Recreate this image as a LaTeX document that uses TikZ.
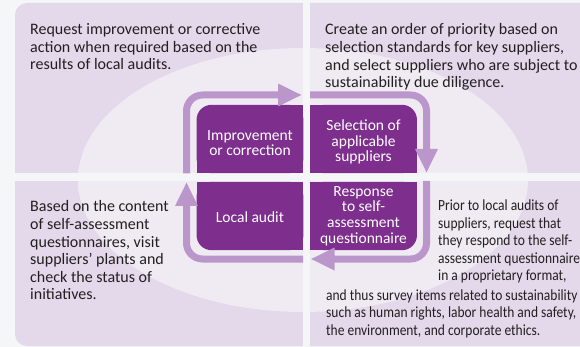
\documentclass[tikz,border=0pt]{standalone}
\usepackage{fontspec}
\setmainfont{Carlito}
\newfontfamily\narrowfont[FakeStretch=0.87]{Carlito}
\usetikzlibrary{arrows.meta, backgrounds}

\definecolor{pagebg}{HTML}{F5F6F7}
\definecolor{panelfill}{HTML}{E4D8EB}
\definecolor{glowfill}{HTML}{F0EAF3}
\definecolor{stagecol}{HTML}{7E2F8E}
\definecolor{loopcol}{HTML}{BA96CA}
\definecolor{ink}{HTML}{231F20}

\pgfdeclareradialshading{glow}{\pgfpoint{0bp}{0bp}}{%
  color(0bp)=(glowfill); color(28bp)=(glowfill);
  color(49bp)=(panelfill!65!glowfill); color(50bp)=(panelfill)}

\tikzset{
  stage/.style={
    inner sep=0pt, minimum width=106.5pt, minimum height=68pt
  },
  stagetext/.style={
    text=white, align=center, inner sep=0pt,
    font=\fontsize{15.5}{15.7}\selectfont
  },
  note/.style={
    text=ink, align=left, inner sep=0pt, anchor=north west,
    font=\fontsize{16}{17.6}\selectfont
  },
  narrownote/.style={
    note, font=\narrowfont\fontsize{15.5}{17.5}\selectfont
  },
  cyclearrow/.style={
    draw=loopcol, line width=7pt, rounded corners=16pt,
    -{Triangle[length=24pt, width=21pt]}
  }
}
% fill a stage box, only one corner rounded
\def\stagefill#1#2#3#4#5{%
  \fill[stagecol, rounded corners=15pt] (#1.south west) rectangle (#1.north east);
  \fill[stagecol] (#1.#2) rectangle (#1.#3);
  \fill[stagecol] (#1.#4) rectangle (#1.#5);
}

\begin{document}
\begin{tikzpicture}[x=1pt, y=-1pt]
  \useasboundingbox (0,0) rectangle (580,347);
  % stages
  \node[stage, label={[stagetext, yshift=-4pt]center:Improvement\\or correction}] (imp) at (250,139) {};
  \node[stage, label={[stagetext, yshift=-3pt]center:Selection of\\applicable\\suppliers}] (sel) at (363.5,139) {};
  \node[stage, label={[stagetext, yshift=-1pt]center:Local audit}] (aud) at (250,216) {};
  \node[stage, label={[stagetext]center:Response\\to self-\\assessment\\questionnaire}] (resp) at (363.5,216) {};
  % notes
  \node[note] (n-imp) at (30,23.5) {Request improvement or corrective\\action when required based on the\\results of local audits.};
  \node[note] (n-sel) at (325,23.5) {Create an order of priority based on\\selection standards for key suppliers,\\and select suppliers who are subject to\\sustainability due diligence.};
  \node[note] (n-aud) at (30,200.5) {Based on the content\\of self-assessment\\questionnaires, visit\\suppliers' plants and\\check the status of\\initiatives.};
  \node[narrownote] (n-resp) at (438,200) {Prior to local audits of\\suppliers, request that\\they respond to the self-\\assessment questionnaire\\in a proprietary format,};
  \node[narrownote] (n-resp2) at (326,289.5) {and thus survey items related to sustainability\\such as human rights, labor health and safety,\\the environment, and corporate ethics.};
  % loop ends
  \coordinate (c-imp) at (186.5,173.5);
  \coordinate (c-sel) at (302,95);
  \coordinate (c-sel2) at (310,95);
  \coordinate (c-resp) at (426.5,173);
  \coordinate (c-resp2) at (426.5,181);
  \coordinate (c-aud) at (310.5,259);
  \coordinate (c-aud2) at (303,259);
  \coordinate (c-imp2) at (186.5,182);
  \begin{scope}[on background layer]
    \fill[pagebg] (0,0) rectangle (580,347);
    \fill[panelfill, rounded corners=12pt] (15,3) rectangle (600,346);
    \shade[shading=glow] (303,180) ellipse [x radius=225, y radius=132];
    \fill[pagebg] (303,0) rectangle (310,347);
    \fill[pagebg] (15,173.5) rectangle (580,181);
    \stagefill{imp}{south west}{east}{south}{north east}
    \stagefill{sel}{south west}{north}{south west}{east}
    \stagefill{aud}{west}{north east}{south}{north east}
    \stagefill{resp}{west}{north east}{south west}{north}
    \draw[cyclearrow] (c-imp) |- (c-sel);
    \draw[cyclearrow] (c-sel2) -| (c-resp);
    \draw[cyclearrow] (c-resp2) |- (c-aud);
    \draw[cyclearrow] (c-aud2) -| (c-imp2);
  \end{scope}
\end{tikzpicture}
\end{document}
